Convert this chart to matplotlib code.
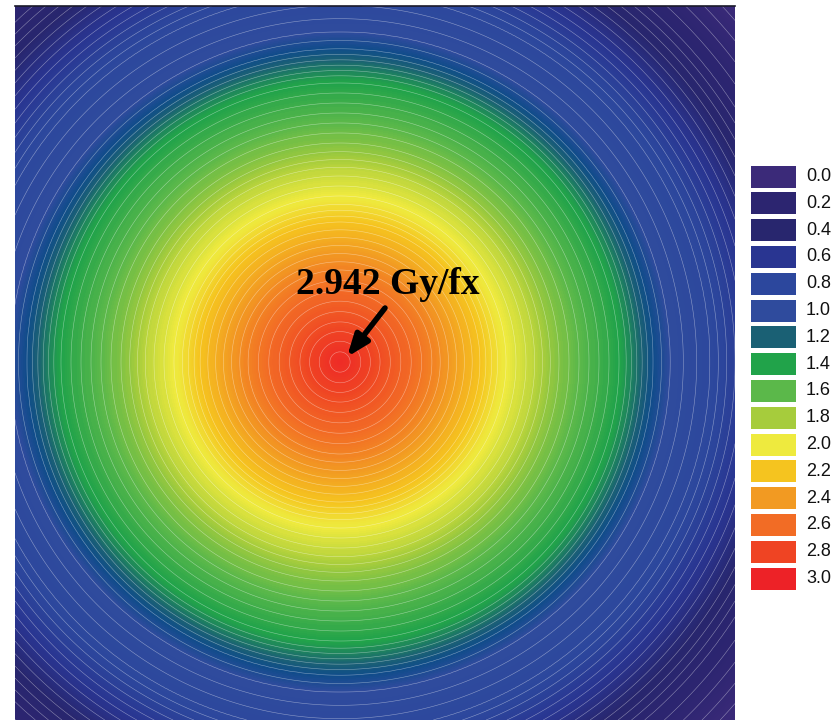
import matplotlib.pyplot as plt
import numpy as np
from matplotlib.colors import LinearSegmentedColormap
from matplotlib.patches import Rectangle

# legend levels and colours (Gy/fx)
levels = [0.0, 0.2, 0.4, 0.6, 0.8, 1.0, 1.2, 1.4, 1.6, 1.8, 2.0, 2.2, 2.4, 2.6, 2.8, 3.0]
colors = ['#3b2a79', '#2c2570', '#28266e', '#293591', '#2c479d', '#2f4b9d', '#1a6074',
          '#21a34a', '#5bb84a', '#a6cc3c', '#eeea3e', '#f5c41f', '#f29a22', '#f26c25',
          '#ef4423', '#ed2227']

# radial dose profile (radius in px, dose in Gy/fx)
radius = [0, 15, 42, 65, 92, 115, 140, 160, 190, 215, 255, 283, 300, 313, 330, 370, 420, 470, 530]
dose = [2.942, 2.88, 2.74, 2.63, 2.5, 2.36, 2.2, 2.03, 1.88, 1.72, 1.52, 1.38, 1.22, 1.1,
        1.0, 0.85, 0.55, 0.25, 0.02]
center = (325, 358)
peak_label = '2.942 Gy/fx'

nodes = list(zip(np.array(levels) / 3.0, colors))
nodes.insert(6, (1.1 / 3.0, '#0f4c8a'))  # darker band between 1.0 and 1.2
cmap = LinearSegmentedColormap.from_list('dose', nodes)

x = np.linspace(0, 720, 361)
y = np.linspace(0, 714, 358)
X, Y = np.meshgrid(x, y)
R = np.hypot(X - center[0], Y - center[1])
Z = np.interp(R, radius, dose)

fig = plt.figure(figsize=(8.36, 7.2), dpi=100)
ax = fig.add_axes([15 / 836, 0, 720 / 836, 714 / 720])
ax.contourf(X, Y, Z, levels=np.linspace(0, 3.0, 301), cmap=cmap, vmin=0, vmax=3.0)
ax.contour(X, Y, Z, levels=np.arange(0.05, 3.0, 0.05), colors='white', linewidths=0.4, alpha=0.45)
ax.set_xlim(0, 720)
ax.set_ylim(0, 714)
ax.set_xticks([])
ax.set_yticks([])
for s in ['left', 'right', 'bottom']:
    ax.spines[s].set_visible(False)
ax.spines['top'].set_color('#1a1a2a')
ax.spines['top'].set_linewidth(1.2)

ax.annotate('', xy=(332, 363), xytext=(370, 412),
            arrowprops=dict(arrowstyle='-|>,head_width=0.5,head_length=1.3', color='black',
                            lw=4, shrinkA=0, shrinkB=0))
ax.text(373, 426, peak_label, ha='center', va='baseline', fontsize=27, fontweight='bold',
        family='Liberation Serif', color='black')

# legend boxes, drawn in pixel positions of the figure
W, H = 836, 720
for i, (v, c) in enumerate(zip(levels, colors)):
    top = 165.5 + i * 26.8
    fig.add_artist(Rectangle((751 / W, 1 - (top + 22) / H), 45 / W, 22 / H,
                             transform=fig.transFigure, facecolor=c, edgecolor='none'))
    fig.text(806 / W, 1 - (top + 11) / H, '%.1f' % v, ha='left', va='center',
             fontsize=13, family='Liberation Sans', color='#111111')

fig.savefig('out.png', dpi=100)
